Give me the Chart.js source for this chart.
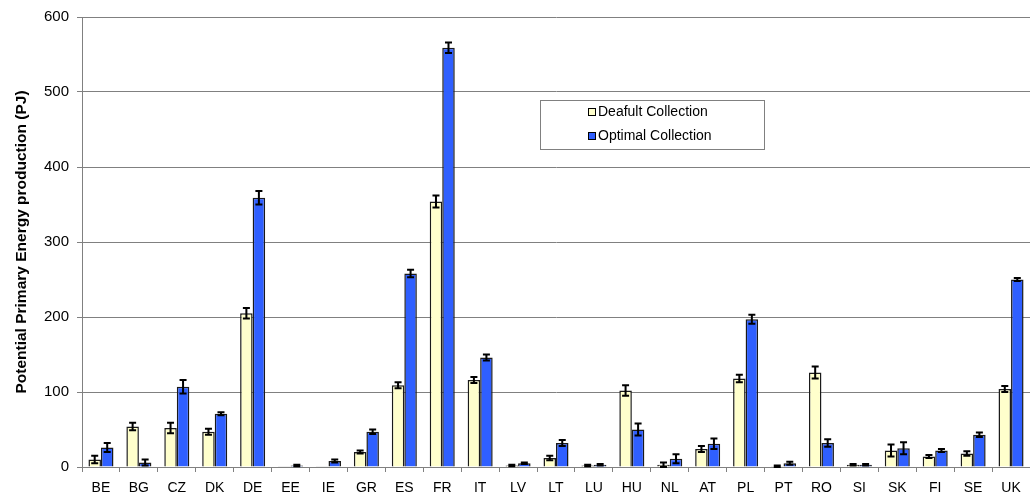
<!DOCTYPE html>
<html>
<head>
<meta charset="utf-8">
<script src="https://cdn.jsdelivr.net/npm/chart.js@4/dist/chart.umd.min.js"></script>
<style>
  html, body { margin: 0; padding: 0; background: #fff; }
  #wrap { width: 1030px; height: 494px; position: relative; }
</style>
</head>
<body>
<div id="wrap"><canvas id="grafico"></canvas></div>
<script>
const paises = ['BE','BG','CZ','DK','DE','EE','IE','GR','ES','FR','IT','LV','LT','LU','HU','NL','AT','PL','PT','RO','SI','SK','FI','SE','UK'];
const padrao = [10, 54, 52, 47, 205, 0.5, 0.5, 20, 109, 354, 116, 2, 12, 2, 102, 3, 24, 118, 1, 126, 3, 22, 14, 18, 104];
const padraoErro = [5, 5, 7, 4, 7, 0, 0, 2, 4, 8, 4, 1, 3, 1, 7, 3, 4, 5, 1, 8, 1, 8, 2, 3, 4];
const otimo = [26, 6, 107, 71, 359, 2, 8, 47, 258, 559, 146, 5, 32, 3, 50, 11, 31, 197, 5, 32, 3, 25, 22, 43, 250];
const otimoErro = [6, 4, 9, 2, 9, 1, 2, 3, 5, 7, 4, 1, 4, 1, 8, 6, 7, 6, 2, 5, 1, 8, 2, 3, 2];
const yTicks = [0, 100, 200, 300, 400, 500, 600];

// barras de erro
const errorBars = {
  id: 'errorBars',
  afterDatasetsDraw(chart) {
    const ctx = chart.ctx;
    const y = chart.scales.y;
    const erros = [padraoErro, otimoErro];
    ctx.save();
    ctx.strokeStyle = '#000';
    ctx.lineWidth = 2;
    chart.data.datasets.forEach((ds, di) => {
      const meta = chart.getDatasetMeta(di);
      meta.data.forEach((bar, i) => {
        const e = erros[di][i];
        if (!e) return;
        const v = ds.data[i];
        const yt = y.getPixelForValue(v + e);
        const yb = y.getPixelForValue(Math.max(0, v - e));
        ctx.beginPath();
        ctx.moveTo(bar.x, yt); ctx.lineTo(bar.x, yb);
        ctx.moveTo(bar.x - 3.5, yt); ctx.lineTo(bar.x + 3.5, yt);
        ctx.moveTo(bar.x - 3.5, yb); ctx.lineTo(bar.x + 3.5, yb);
        ctx.stroke();
      });
    });
    ctx.restore();
  }
};

// legenda em caixa
const caixaLegenda = {
  id: 'caixaLegenda',
  afterDraw(chart) {
    const ctx = chart.ctx;
    ctx.save();
    ctx.fillStyle = '#fff';
    ctx.fillRect(540, 100, 224, 49);
    ctx.strokeStyle = '#808080';
    ctx.lineWidth = 1;
    ctx.strokeRect(540.5, 100.5, 224, 49);
    ctx.font = '14px "Liberation Sans", Arial, sans-serif';
    ctx.textBaseline = 'middle';
    chart.data.datasets.forEach((ds, i) => {
      const yy = 112 + i * 24;
      ctx.fillStyle = ds.backgroundColor;
      ctx.fillRect(588, yy - 4, 8, 8);
      ctx.strokeStyle = '#000';
      ctx.strokeRect(588.5, yy - 3.5, 7, 7);
      ctx.fillStyle = '#000';
      ctx.fillText(ds.label, 598, yy);
    });
    ctx.restore();
  }
};

new Chart(document.getElementById('grafico'), {
  type: 'bar',
  data: {
    labels: paises,
    datasets: [
      {
        label: 'Deafult Collection',
        data: padrao,
        backgroundColor: '#ffffcc',
        borderColor: '#1a1a1a',
        borderWidth: 1.5
      },
      {
        label: 'Optimal Collection',
        data: otimo,
        backgroundColor: '#2f5fff',
        borderColor: '#1a1a1a',
        borderWidth: 1.5
      }
    ]
  },
  options: {
    responsive: true,
    maintainAspectRatio: false,
    animation: false,
    layout: { padding: { left: 8, top: 14, right: 0, bottom: 0 } },
    datasets: { bar: { categoryPercentage: 0.66, barPercentage: 1 } },
    scales: {
      x: {
        grid: { offset: true, drawOnChartArea: false, drawTicks: true, tickLength: 5, color: '#808080' },
        border: { color: '#808080', width: 1 },
        ticks: { color: '#000', font: { size: 14, family: '"Liberation Sans", Arial, sans-serif' }, padding: 8, maxRotation: 0, autoSkip: false },
        afterFit(s) { s.height = 27; }
      },
      y: {
        min: 0,
        max: 600,
        afterBuildTicks(s) { s.ticks = yTicks.map(v => ({ value: v })); },
        grid: { color: '#808080', lineWidth: 1, tickLength: 5 },
        border: { color: '#808080', width: 1 },
        ticks: { color: '#000', font: { size: 15, family: '"Liberation Sans", Arial, sans-serif' }, padding: 8 },
        title: { display: true, text: 'Potential Primary Energy production (PJ)', color: '#000', font: { size: 15.5, weight: 'bold', family: '"Liberation Sans", Arial, sans-serif' }, padding: 4 },
        afterFit(s) { s.width = 74; }
      }
    },
    plugins: {
      legend: { display: false },
      tooltip: { enabled: false }
    }
  },
  plugins: [errorBars, caixaLegenda]
});
</script>
</body>
</html>
